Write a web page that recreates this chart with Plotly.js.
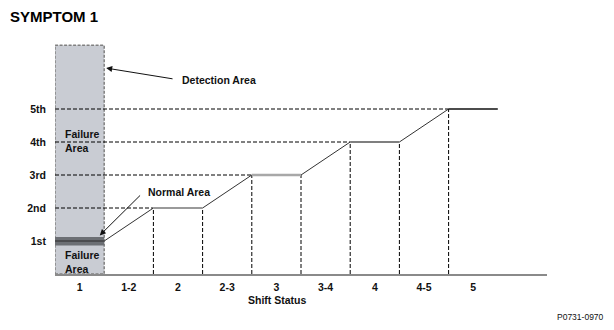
<!DOCTYPE html>
<html>
<head>
<meta charset="utf-8">
<script src="https://cdn.plot.ly/plotly-3.0.1.min.js"></script>
<style>html,body{margin:0;padding:0;background:#fff;}#chart{width:614px;height:330px;}</style>
</head>
<body>
<div id="chart"></div>
<script>
// ---- data ----
const shiftStatus = ['1', '1-2', '2', '2-3', '3', '3-4', '4', '4-5', '5'];
const gearLabels = ['1st', '2nd', '3rd', '4th', '5th'];
const gearValues = [1, 2, 3, 4, 5];
// normal gear-ratio path: boundaries between shift-status columns and gear at each
const pathX = [0.5, 1.5, 2.5, 3.5, 4.5, 5.5, 6.5, 7.5, 8.5];
const pathY = [1, 2, 2, 3, 3, 4, 4, 5, 5];
// detection (shift status 1) area and normal band
const detectionX = [-0.5, 0.5];
const detectionTop = 6.93;
const normalBand = [0.86, 1.12];

// ---- styles ----
const F = 'Liberation Sans, Arial, Helvetica, sans-serif';
const segStyle = [
  {c: '#333', w: 1},
  {c: '#9a9a9a', w: 2},
  {c: '#333', w: 1},
  {c: '#a8a8a8', w: 2.5},
  {c: '#333', w: 1},
  {c: '#555', w: 1.5},
  {c: '#333', w: 1},
  {c: '#111', w: 1.5}
];

const traces = [];
gearValues.forEach(g => {
  if (g === 1) return;
  const idx = pathY.indexOf(g);
  traces.push({x: [-0.5, pathX[idx]], y: [g, g], mode: 'lines', hoverinfo: 'skip',
    line: {color: '#000', width: 1, dash: '4px,2px'}});
});
pathX.forEach((x, i) => {
  if (i === 0 || i === pathX.length - 1) return;
  traces.push({x: [x, x], y: [0, pathY[i]], mode: 'lines', hoverinfo: 'skip',
    line: {color: '#000', width: 1, dash: '4px,2px'}});
});
for (let i = 0; i < pathX.length - 1; i++) {
  const s = segStyle[i];
  traces.push({x: [pathX[i], pathX[i + 1]], y: [pathY[i], pathY[i + 1]], mode: 'lines',
    hoverinfo: 'skip', line: {color: s.c, width: s.w}});
}

const shapes = [
  {type: 'rect', xref: 'x', yref: 'y', x0: detectionX[0], x1: detectionX[1], y0: 0, y1: detectionTop,
    fillcolor: '#c9ccd3', line: {color: '#808080', width: 1.5, dash: '3px,1.5px'}, layer: 'below'},
  {type: 'rect', xref: 'x', yref: 'y', x0: detectionX[0], x1: detectionX[1], y0: normalBand[0], y1: normalBand[1],
    fillcolor: '#6c6f74', line: {width: 0}, layer: 'above'},
  {type: 'line', xref: 'x', yref: 'y', x0: detectionX[0], x1: detectionX[1], y0: gearValues[0], y1: gearValues[0],
    line: {color: '#2a2a2a', width: 1}, layer: 'above'}
];

const b = t => '<b>' + t + '</b>';
const annotations = [
  {xref: 'paper', yref: 'paper', x: -0.096, y: 1.113, xanchor: 'left', yanchor: 'middle', showarrow: false,
    text: b('SYMPTOM 1'), font: {family: F, size: 15, color: '#000'}},
  {xref: 'x', yref: 'y', x: -0.36, y: 7.18, showarrow: false, text: b('Gear Ratio'),
    font: {family: F, size: 10.5, color: '#111'}},
  {xref: 'paper', yref: 'paper', x: 0.451, y: -0.112, yanchor: 'middle', showarrow: false, text: b('Shift Status'),
    font: {family: F, size: 10.5, color: '#111'}},
  {xref: 'paper', yref: 'paper', x: 1.12, y: -0.185, xanchor: 'right', yanchor: 'middle', showarrow: false,
    text: 'P0731-0970', font: {family: F, size: 8.5, color: '#111'}},
  {xref: 'x', yref: 'y', x: -0.34, y: 4.03, xanchor: 'left', align: 'left', showarrow: false,
    text: b('Failure<br>Area'), font: {family: F, size: 10.5, color: '#111'}},
  {xref: 'x', yref: 'y', x: -0.34, y: 0.36, xanchor: 'left', align: 'left', showarrow: false,
    text: b('Failure<br>Area'), font: {family: F, size: 10.5, color: '#111'}},
  {xref: 'x', yref: 'y', x: 2.04, y: 5.88, xanchor: 'left', showarrow: false,
    text: b('Detection Area'), font: {family: F, size: 10.5, color: '#111'}},
  {xref: 'x', yref: 'y', x: 0.54, y: 6.24, axref: 'x', ayref: 'y', ax: 1.95, ay: 5.9, text: ' ',
    showarrow: true, arrowhead: 2, arrowsize: 1.2, arrowwidth: 1, arrowcolor: '#111', standoff: 0},
  {xref: 'x', yref: 'y', x: 1.35, y: 2.48, xanchor: 'left', showarrow: false,
    text: b('Normal Area'), font: {family: F, size: 10.5, color: '#111'}},
  {xref: 'x', yref: 'y', x: 0.41, y: 1.17, axref: 'x', ayref: 'y', ax: 1.29, ay: 2.47, text: ' ',
    showarrow: true, arrowhead: 2, arrowsize: 1.2, arrowwidth: 1, arrowcolor: '#111', standoff: 0}
];

const layout = {
  width: 614, height: 330,
  margin: {l: 55, r: 67, t: 43, b: 56, pad: 0},
  paper_bgcolor: '#fff', plot_bgcolor: '#fff',
  showlegend: false,
  xaxis: {range: [-0.5, 9.5], tickvals: shiftStatus.map((_, i) => i), ticktext: shiftStatus.map(b),
    showgrid: false, zeroline: false, showline: true, linecolor: '#8a8a8a', linewidth: 1.5,
    ticks: 'outside', ticklen: 3, tickcolor: 'rgba(0,0,0,0)',
    tickfont: {family: F, size: 10.5, color: '#111'}, fixedrange: true},
  yaxis: {range: [0, 7], tickvals: gearValues, ticktext: gearLabels.map(b),
    showgrid: false, zeroline: false, showline: false,
    ticks: 'outside', ticklen: 6, tickcolor: 'rgba(0,0,0,0)',
    tickfont: {family: F, size: 10.5, color: '#111'}, fixedrange: true},
  shapes: shapes,
  annotations: annotations
};

Plotly.newPlot('chart', traces, layout, {displayModeBar: false, staticPlot: true});
</script>
</body>
</html>
